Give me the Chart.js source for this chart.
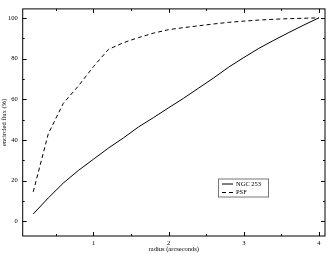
<html>
<head>
<script src="https://cdn.jsdelivr.net/npm/chart.js@4.4.0/dist/chart.umd.min.js"></script>
<style>
  body { margin: 0; background: #fff; }
</style>
</head>
<body>
<canvas id="myChart" width="327" height="254"></canvas>
<script>
// radius (arcseconds) sample points
var radius = [0.2, 0.4, 0.6, 0.8, 1.0, 1.2, 1.4, 1.6, 1.8, 2.0, 2.2, 2.4, 2.6, 2.8, 3.0, 3.2, 3.4, 3.6, 3.8, 4.0];
// encircled flux (%)
var ngc253 = [3.6, 11.5, 18.8, 25.0, 30.5, 36.0, 41.0, 46.4, 51.0, 55.8, 60.5, 65.5, 70.5, 75.8, 80.5, 85.0, 89.0, 92.8, 96.5, 100];
var psf = [14.5, 43.0, 58.0, 66.5, 76.0, 84.5, 87.8, 90.3, 92.5, 94.2, 95.2, 96.1, 97.0, 97.8, 98.4, 98.9, 99.3, 99.6, 99.8, 100];

var xTicks = [1, 2, 3, 4];
var xMinor = [0.5, 1.5, 2.5, 3.5];
var yTicks = [0, 20, 40, 60, 80, 100];
var yMinor = [10, 30, 50, 70, 90];

var serif = "'Liberation Serif', 'DejaVu Serif', serif";

function pts(ys) {
    return radius.map(function (r, i) { return { x: r, y: ys[i] }; });
}

// frame with inward ticks on all four sides, grace-style
var frameTicks = {
    id: 'frameTicks',
    afterDraw: function (chart) {
        var ctx = chart.ctx, a = chart.chartArea, x = chart.scales.x, y = chart.scales.y;
        ctx.save();
        ctx.strokeStyle = '#000';
        ctx.lineWidth = 1;
        ctx.strokeRect(a.left, a.top, a.right - a.left, a.bottom - a.top);
        ctx.beginPath();
        function xt(v, len) {
            var px = Math.round(x.getPixelForValue(v)) + 0.5;
            ctx.moveTo(px, a.bottom); ctx.lineTo(px, a.bottom - len);
            ctx.moveTo(px, a.top); ctx.lineTo(px, a.top + len);
        }
        function yt(v, len) {
            var py = Math.round(y.getPixelForValue(v)) + 0.5;
            ctx.moveTo(a.left, py); ctx.lineTo(a.left + len, py);
            ctx.moveTo(a.right, py); ctx.lineTo(a.right - len, py);
        }
        xTicks.forEach(function (v) { xt(v, 4); });
        xMinor.forEach(function (v) { xt(v, 2); });
        yTicks.forEach(function (v) { yt(v, 4); });
        yMinor.forEach(function (v) { yt(v, 2); });
        ctx.stroke();

        // legend box
        var bx = 218, by = 178.5, bw = 50, bh = 18;
        ctx.fillStyle = '#fff';
        ctx.fillRect(bx, by, bw, bh);
        ctx.strokeStyle = '#777';
        ctx.strokeRect(bx + 0.5, by + 0.5, bw, bh);
        ctx.font = '6.5px ' + serif;
        ctx.textBaseline = 'middle';
        ctx.fillStyle = '#000';
        chart.data.datasets.forEach(function (ds, i) {
            var ly = by + 5.5 + i * 8.5;
            ctx.strokeStyle = '#000';
            ctx.setLineDash(ds.borderDash || []);
            ctx.beginPath();
            ctx.moveTo(bx + 4, ly);
            ctx.lineTo(bx + 15, ly);
            ctx.stroke();
            ctx.setLineDash([]);
            ctx.fillText(ds.label, bx + 18, ly);
        });
        ctx.restore();
    }
};

var ctx = document.getElementById('myChart').getContext('2d');
var myChart = new Chart(ctx, {
    type: 'line',
    data: {
        datasets: [
            {
                label: 'NGC 253',
                data: pts(ngc253),
                borderColor: '#000',
                borderWidth: 1,
                pointRadius: 0,
                tension: 0
            }, {
                label: 'PSF',
                data: pts(psf),
                borderColor: '#000',
                borderWidth: 1,
                borderDash: [4, 3],
                pointRadius: 0,
                tension: 0
            }
        ]
    },
    options: {
        responsive: false,
        animation: false,
        layout: { padding: { left: 0, right: 2, top: 0.5, bottom: 0 } },
        plugins: { legend: { display: false }, tooltip: { enabled: false } },
        scales: {
            x: {
                type: 'linear',
                min: 0.06,
                max: 4.08,
                afterBuildTicks: function (s) { s.ticks = xTicks.map(function (v) { return { value: v }; }); },
                afterFit: function (s) { s.height = 18; },
                grid: { display: false, drawTicks: false },
                border: { display: false },
                ticks: { padding: 3, color: '#000', font: { family: serif, size: 6.5 } },
                title: {
                    display: true,
                    text: 'radius (arcseconds)',
                    color: '#000',
                    padding: { top: 0, bottom: 1 },
                    font: { family: serif, size: 6.5 }
                }
            },
            y: {
                type: 'linear',
                min: -7.2,
                max: 104.4,
                afterBuildTicks: function (s) { s.ticks = yTicks.map(function (v) { return { value: v }; }); },
                afterFit: function (s) { s.width = 22.7; },
                grid: { display: false, drawTicks: false },
                border: { display: false },
                ticks: { padding: 5, color: '#000', font: { family: serif, size: 6.5 } },
                title: {
                    display: true,
                    text: 'encircled flux (%)',
                    color: '#000',
                    padding: { top: 0, bottom: 0 },
                    font: { family: serif, size: 6.5 }
                }
            }
        }
    },
    plugins: [frameTicks]
});
</script>
</body>
</html>
